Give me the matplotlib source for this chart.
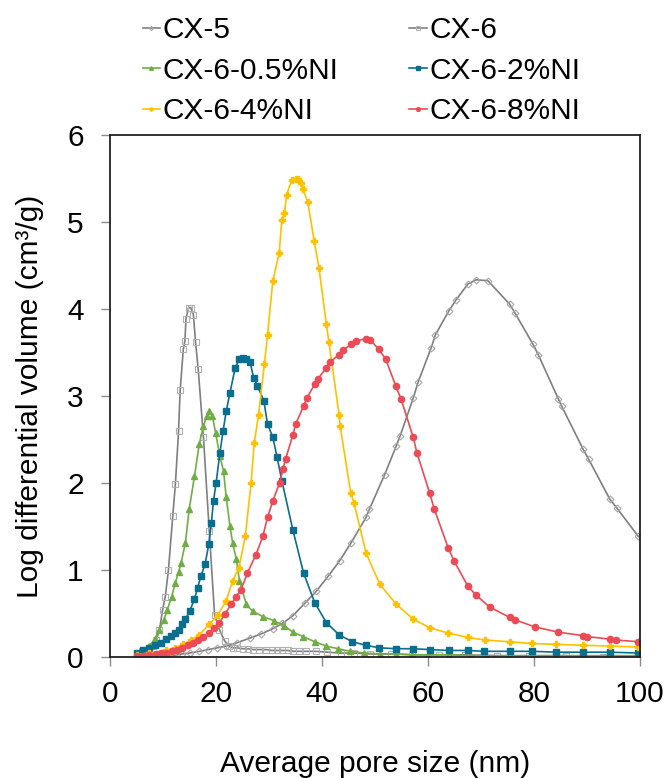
import matplotlib
matplotlib.use("Agg")
import matplotlib.pyplot as plt

plt.rcParams['font.family'] = ['Liberation Sans', 'DejaVu Sans']

# pore size distributions
cx5_x = [5.0, 6.5, 8.0, 9.5, 10.5, 12.0, 13.5, 15.0, 16.8, 18.5, 20.2, 21.9, 24.0, 26.3, 28.5,
         30.7, 32.5, 34.5, 36.7, 38.9, 41.1, 43.3, 45.5, 48.3, 48.9, 51.8, 54.0, 54.7, 57.2, 58.1,
         60.6, 61.4, 63.9, 65.3, 67.5, 69.1, 71.3, 75.4, 76.4, 79.8, 80.8, 84.6, 85.2, 89.3, 90.3,
         94.3, 95.6, 99.7]
cx5_y = [0.0, 0.0, 0.0, 0.01, 0.01, 0.02, 0.04, 0.05, 0.07, 0.09, 0.11, 0.13, 0.17, 0.22, 0.27,
         0.33, 0.39, 0.48, 0.62, 0.76, 0.93, 1.11, 1.32, 1.61, 1.70, 2.10, 2.43, 2.54, 2.98, 3.16,
         3.56, 3.71, 3.98, 4.11, 4.29, 4.34, 4.33, 4.06, 3.96, 3.60, 3.48, 2.97, 2.89, 2.39, 2.28,
         1.82, 1.72, 1.39]

cx6_x = [5.0, 6.0, 7.0, 8.0, 8.7, 9.3, 9.9, 10.4, 11.0, 11.8, 12.3, 12.9, 13.2, 13.8, 14.1, 14.3,
         14.8, 15.2, 15.7, 16.1, 16.6, 17.6, 18.7, 19.7, 20.6, 21.6, 22.5, 23.1, 24.0, 25.0, 26.0,
         27.0, 28.0, 29.4, 30.5, 31.5, 32.5, 33.5, 34.5, 35.7, 37.0, 38.9, 41.0, 43.5, 46.0, 49.0,
         53.0, 57.0, 62.0, 67.0, 73.0, 79.0, 86.0, 93.0, 100.0]
cx6_y = [0.05, 0.07, 0.09, 0.13, 0.20, 0.32, 0.55, 0.70, 1.01, 1.62, 1.99, 2.60, 3.07, 3.54, 3.64,
         3.89, 4.02, 4.02, 3.94, 3.63, 3.32, 2.53, 1.45, 0.49, 0.32, 0.19, 0.13, 0.11, 0.11, 0.10,
         0.10, 0.09, 0.09, 0.09, 0.08, 0.08, 0.08, 0.08, 0.07, 0.07, 0.07, 0.07, 0.06, 0.05, 0.05,
         0.04, 0.04, 0.03, 0.03, 0.03, 0.02, 0.02, 0.02, 0.01, 0.01]

ni05_x = [5.0, 6.0, 7.4, 8.4, 9.3, 10.1, 10.8, 11.6, 12.3, 12.9, 13.4, 14.2, 14.9, 15.9, 16.8,
          17.6, 18.2, 18.7, 19.3, 19.9, 20.7, 21.4, 21.9, 22.6, 23.1, 23.8, 24.4, 25.7, 26.9,
          28.8, 31.0, 32.9, 34.5, 36.4, 38.6, 40.8, 43.0, 45.3, 48.0, 51.0, 54.0, 57.0, 60.0,
          64.0, 68.0, 71.0, 75.0, 80.0, 84.0, 89.0, 94.0, 100.0]
ni05_y = [0.05, 0.08, 0.13, 0.21, 0.32, 0.43, 0.55, 0.70, 0.86, 0.98, 1.09, 1.32, 1.70, 2.08, 2.45,
          2.66, 2.77, 2.83, 2.77, 2.58, 2.31, 2.14, 1.84, 1.51, 1.32, 1.13, 0.88, 0.61, 0.53,
          0.47, 0.42, 0.36, 0.29, 0.24, 0.18, 0.13, 0.10, 0.07, 0.05, 0.04, 0.04, 0.03, 0.03,
          0.03, 0.02, 0.02, 0.02, 0.02, 0.02, 0.02, 0.02, 0.02]

ni2_x = [5.0, 6.2, 7.4, 8.5, 9.6, 10.6, 11.5, 12.3, 13.0, 13.6, 14.2, 15.0, 15.9, 16.5, 17.1,
         17.9, 18.6, 19.1, 19.5, 20.0, 20.7, 21.3, 21.9, 22.6, 23.6, 24.4, 25.0, 25.7, 26.4, 27.1,
         27.8, 29.0, 29.7, 30.7, 31.5, 32.4, 34.5, 36.5, 38.6, 40.8, 43.2, 45.7, 48.2, 50.8, 54.0,
         57.1, 60.3, 63.9, 67.5, 70.6, 75.4, 79.7, 84.2, 89.2, 94.3, 99.7]
ni2_y = [0.05, 0.08, 0.11, 0.14, 0.17, 0.21, 0.25, 0.28, 0.32, 0.38, 0.44, 0.53, 0.67, 0.80, 0.93,
         1.07, 1.30, 1.55, 1.80, 2.01, 2.35, 2.60, 2.83, 3.04, 3.33, 3.43, 3.44, 3.43, 3.39, 3.21,
         3.12, 2.95, 2.68, 2.53, 2.30, 2.03, 1.46, 0.97, 0.63, 0.40, 0.26, 0.18, 0.14, 0.11, 0.10,
         0.10, 0.09, 0.08, 0.08, 0.07, 0.07, 0.07, 0.06, 0.06, 0.06, 0.05]

ni4_x = [5.0, 7.4, 10.5, 12.2, 13.7, 15.3, 16.8, 18.7, 20.3, 21.9, 23.1, 24.3, 25.5, 26.6, 27.2,
         28.0, 29.1, 29.7, 30.7, 31.9, 32.4, 32.9, 33.3, 34.3, 35.0, 35.4, 36.0, 36.4, 37.3, 38.5,
         39.4, 40.8, 41.3, 43.2, 43.4, 45.4, 46.0, 48.3, 50.9, 54.0, 57.2, 60.3, 63.8, 67.5, 70.7,
         75.4, 79.7, 84.2, 89.2, 94.3, 99.7]
ni4_y = [0.03, 0.05, 0.08, 0.11, 0.15, 0.20, 0.26, 0.38, 0.49, 0.65, 0.88, 1.03, 1.39, 2.01, 2.47,
         2.79, 3.37, 3.71, 4.33, 4.65, 5.03, 5.11, 5.32, 5.49, 5.50, 5.50, 5.45, 5.38, 5.23, 4.79,
         4.48, 3.83, 3.62, 2.79, 2.66, 1.89, 1.78, 1.20, 0.84, 0.61, 0.44, 0.34, 0.28, 0.23, 0.20,
         0.18, 0.16, 0.15, 0.14, 0.13, 0.12]

ni8_x = [5.0, 6.2, 7.4, 8.6, 9.6, 10.5, 11.6, 12.6, 13.6, 14.6, 15.6, 16.6, 17.6, 18.7, 19.6,
         20.6, 21.7, 22.8, 23.8, 24.7, 25.9, 27.5, 28.8, 29.7, 30.7, 32.0, 32.6, 33.1, 34.5, 35.0,
         36.5, 37.1, 38.6, 39.2, 40.8, 41.4, 43.2, 43.9, 45.5, 46.4, 48.2, 49.1, 50.7, 52.0, 53.9,
         54.9, 57.2, 57.9, 60.3, 61.2, 63.8, 64.9, 67.5, 69.0, 71.6, 75.4, 76.5, 80.2, 84.6, 89.3,
         90.0, 94.3, 95.5, 99.7]
ni8_y = [0.02, 0.02, 0.03, 0.04, 0.05, 0.05, 0.07, 0.09, 0.11, 0.14, 0.17, 0.20, 0.24, 0.28, 0.34,
         0.40, 0.50, 0.61, 0.70, 0.78, 0.97, 1.18, 1.39, 1.61, 1.80, 2.01, 2.16, 2.28, 2.56, 2.68,
         2.89, 2.98, 3.14, 3.20, 3.33, 3.39, 3.48, 3.53, 3.60, 3.64, 3.66, 3.65, 3.54, 3.43, 3.12,
         2.97, 2.53, 2.35, 1.89, 1.70, 1.26, 1.11, 0.82, 0.72, 0.58, 0.46, 0.43, 0.35, 0.29, 0.25,
         0.24, 0.21, 0.20, 0.18]

x_ticks = [0, 20, 40, 60, 80, 100]
y_ticks = [0, 1, 2, 3, 4, 5, 6]

fig = plt.figure(figsize=(6.68, 7.78), dpi=100)
ax = fig.add_axes([0.165, 0.155, 0.793, 0.671])

lw = 1.2
l5, = ax.plot(cx5_x, cx5_y, color='#7f7f7f', lw=lw, marker='D', ms=3.5, mfc='none',
              mec='#a6a6a6', mew=0.8, label='CX-5')
l6, = ax.plot(cx6_x, cx6_y, color='#7f7f7f', lw=lw, marker='s', ms=4.5, mfc='none',
              mec='#b0b0b0', mew=0.8, label='CX-6')
la, = ax.plot(ni05_x, ni05_y, color='#70ad47', lw=lw, marker='^', ms=4.5, label='CX-6-0.5%NI')
lb, = ax.plot(ni2_x, ni2_y, color='#0a6e8e', lw=lw, marker='s', ms=4.5, label='CX-6-2%NI')
lc, = ax.plot(ni4_x, ni4_y, color='#ffc000', lw=lw, marker='P', ms=4, label='CX-6-4%NI')
ld, = ax.plot(ni8_x, ni8_y, color='#ec4b55', lw=lw, marker='o', ms=4.5, label='CX-6-8%NI')

ax.set_xlim(0, 100)
ax.set_ylim(0, 6)
ax.set_xticks(x_ticks)
ax.set_yticks(y_ticks)
ax.tick_params(labelsize=21.5, direction='out', length=6.5, width=1, color='#8c8c8c')
ax.tick_params(axis='y', pad=12.5)
ax.tick_params(axis='x', pad=10)
for sp in ax.spines.values():
    sp.set_color('#222222')
    sp.set_linewidth(1.3)
ax.set_xlabel('Average pore size (nm)', fontsize=21.5, labelpad=30)
ax.set_ylabel('Log differential volume (cm\u00b3/g)', fontsize=21.5, labelpad=17)

# legend is filled row by row in the original
handles = [l5, la, lc, l6, lb, ld]
fig.legend(handles=handles, labels=[h.get_label() for h in handles],
           loc='upper left', bbox_to_anchor=(0.187, 1.0025), ncol=2, frameon=False,
           fontsize=21.5, handlelength=0.57, handletextpad=0.1, columnspacing=2.37,
           labelspacing=0.42, markerscale=0.6, borderaxespad=0.2)

fig.savefig('out.png', dpi=100)
